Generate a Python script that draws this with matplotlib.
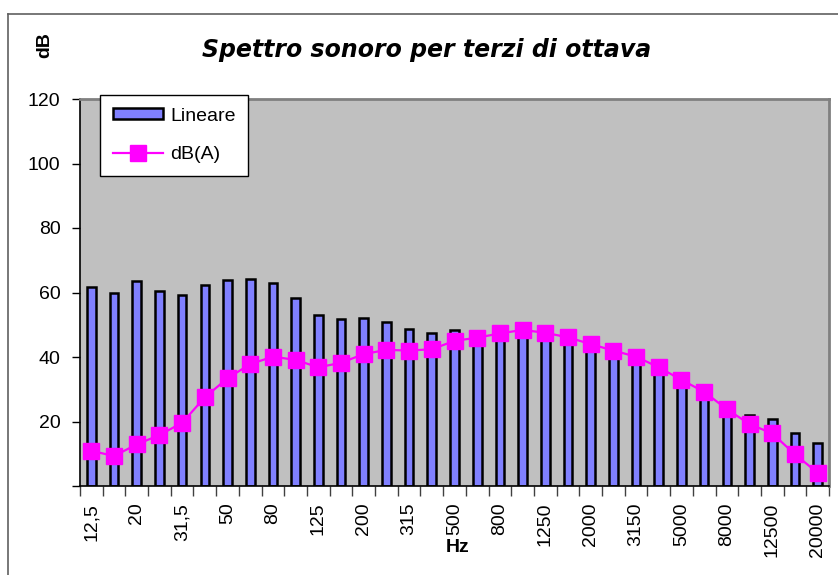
import matplotlib
matplotlib.use("Agg")
import matplotlib.pyplot as plt
from matplotlib.lines import Line2D
from matplotlib.patches import Patch
import numpy as np

freqs = ['12,5', '16', '20', '25', '31,5', '40', '50', '63', '80', '100', '125', '160',
         '200', '250', '315', '400', '500', '630', '800', '1000', '1250', '1600', '2000',
         '2500', '3150', '4000', '5000', '6300', '8000', '10000', '12500', '16000', '20000']
lineare = [61.8, 59.7, 63.6, 60.6, 59.2, 62.3, 63.8, 64.1, 62.8, 58.4, 52.9, 51.7, 52.0,
           50.9, 48.6, 47.5, 48.4, 48.1, 48.1, 48.4, 46.9, 45.1, 42.8, 40.7, 38.9, 35.8,
           32.4, 29.3, 24.9, 22.0, 20.8, 16.5, 13.4]
dba = [10.9, 9.3, 12.9, 15.8, 19.6, 27.5, 33.4, 37.8, 40.1, 39.1, 36.8, 38.2, 40.9, 42.2,
       42.0, 42.4, 45.0, 46.0, 47.3, 48.4, 47.5, 46.1, 44.0, 42.0, 40.1, 36.8, 32.9, 29.2,
       23.8, 19.2, 16.3, 9.8, 4.1]
yticks = [0, 20, 40, 60, 80, 100, 120]

plt.rcParams['font.family'] = ['Liberation Sans', 'DejaVu Sans']

W, H = 838, 575
fig = plt.figure(figsize=(W / 100, H / 100), dpi=100)
ax = fig.add_axes([80 / W, 1 - 486 / H, (829 - 80) / W, (486 - 99) / H])
ax.set_facecolor('#C0C0C0')

x = np.arange(len(freqs))
ax.bar(x, lineare, width=0.38, color='#8080FF', edgecolor='black', linewidth=1.8, zorder=2)
ax.plot(x, dba, color='#FF00FF', marker='s', markersize=11, linewidth=1.6, zorder=3)

ax.set_xlim(-0.5, len(freqs) - 0.5)
ax.set_ylim(0, 120)

ax.set_yticks(yticks)
ax.set_yticklabels([''] + [str(v) for v in yticks[1:]], fontsize=14)
ax.tick_params(axis='y', length=6, width=1, color='black', pad=8)

ax.set_xticks(x[::2])
ax.set_xticklabels(freqs[::2], rotation=90, fontsize=14)
ax.set_xticks(np.arange(-0.5, len(freqs), 1), minor=True)
ax.tick_params(axis='x', which='major', length=0, pad=12)
ax.tick_params(axis='x', which='minor', length=7, width=1, color='#404040')

for s in ['left', 'bottom']:
    ax.spines[s].set_color('black')
    ax.spines[s].set_linewidth(1.2)
for s in ['top', 'right']:
    ax.spines[s].set_color('#808080')
    ax.spines[s].set_linewidth(2)

fig.suptitle('Spettro sonoro per terzi di ottava', x=427 / W, y=1 - 50 / H, va='center',
             fontsize=17, fontweight='bold', style='italic', family='DejaVu Sans')
fig.text(45 / W, 1 - 45 / H, 'dB', rotation=90, ha='center', va='center',
         fontsize=14, fontweight='bold')
fig.text(458 / W, 1 - 547 / H, 'Hz', ha='center', va='center', fontsize=14, fontweight='bold')

handles = [Patch(facecolor='#8080FF', edgecolor='black', linewidth=1.8),
           Line2D([], [], color='#FF00FF', marker='s', markersize=11, linewidth=1.6)]
leg = fig.legend(handles, ['Lineare', 'dB(A)'], loc='upper left',
                 bbox_to_anchor=(100 / W, 1 - 95 / H), fontsize=14, frameon=True,
                 fancybox=False, framealpha=1, edgecolor='black', borderaxespad=0,
                 handlelength=2.6, handleheight=0.45, labelspacing=1.1, handletextpad=0.35,
                 borderpad=0.65)
leg.get_frame().set_linewidth(1)

fig.add_artist(Line2D([8 / W, 8 / W], [0, 1 - 14 / H], color='#606060', lw=1.2,
                      transform=fig.transFigure))
fig.add_artist(Line2D([8 / W, 1], [1 - 14 / H, 1 - 14 / H], color='#606060', lw=1.2,
                      transform=fig.transFigure))

fig.savefig('out.png', dpi=100)
